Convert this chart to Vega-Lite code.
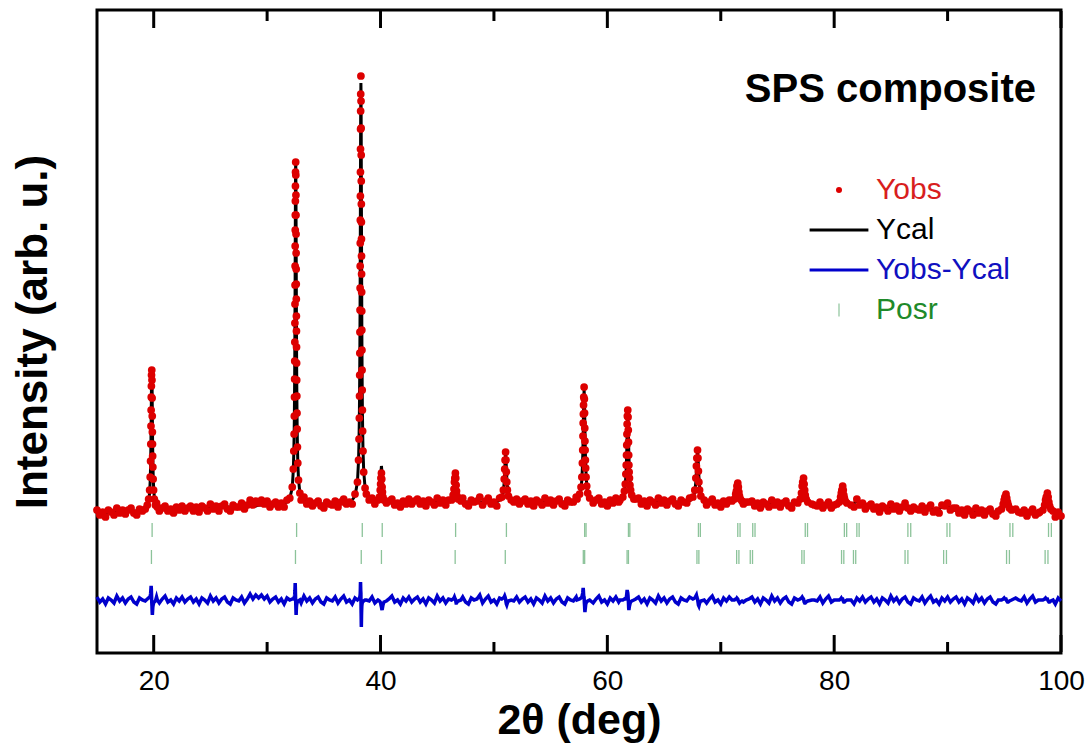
{
"$schema": "https://vega.github.io/schema/vega-lite/v6.json",
"width": 964, "height": 643,
"autosize": {"type": "none"},
"padding": {"left": 97, "top": 10, "right": 30, "bottom": 95},
"background": "#ffffff",
"config": {"view": {"stroke": "#000000", "strokeWidth": 3}, "font": "Liberation Sans", "axis": {"grid": false}},
"datasets": {
"tickpos": [
{"t":20,"k":1},{"t":40,"k":1},{"t":60,"k":1},{"t":80,"k":1},{"t":100,"k":1},
{"t":30,"k":2},{"t":50,"k":2},{"t":70,"k":2},{"t":90,"k":2}
],
"posr": [
{"p":19.86,"ph":1},{"p":32.6,"ph":1},{"p":38.39,"ph":1},{"p":40.15,"ph":1},{"p":46.62,"ph":1},{"p":51.1,"ph":1},{"p":58.0,"ph":1},{"p":58.12,"ph":1},{"p":61.86,"ph":1},{"p":61.98,"ph":1},{"p":68.03,"ph":1},{"p":68.2,"ph":1},{"p":71.5,"ph":1},{"p":71.7,"ph":1},{"p":72.82,"ph":1},{"p":73.02,"ph":1},{"p":77.45,"ph":1},{"p":77.65,"ph":1},{"p":80.9,"ph":1},{"p":81.1,"ph":1},{"p":82.0,"ph":1},{"p":82.2,"ph":1},{"p":86.5,"ph":1},{"p":86.75,"ph":1},{"p":89.95,"ph":1},{"p":90.2,"ph":1},{"p":95.5,"ph":1},{"p":95.75,"ph":1},{"p":98.9,"ph":1},{"p":99.15,"ph":1},
{"p":19.8,"ph":2},{"p":32.5,"ph":2},{"p":38.3,"ph":2},{"p":40.08,"ph":2},{"p":46.58,"ph":2},{"p":51.0,"ph":2},{"p":57.88,"ph":2},{"p":58.0,"ph":2},{"p":61.74,"ph":2},{"p":61.86,"ph":2},{"p":67.9,"ph":2},{"p":68.07,"ph":2},{"p":71.4,"ph":2},{"p":71.6,"ph":2},{"p":72.6,"ph":2},{"p":72.8,"ph":2},{"p":77.15,"ph":2},{"p":77.35,"ph":2},{"p":80.65,"ph":2},{"p":80.85,"ph":2},{"p":81.7,"ph":2},{"p":81.9,"ph":2},{"p":86.25,"ph":2},{"p":86.5,"ph":2},{"p":89.65,"ph":2},{"p":89.9,"ph":2},{"p":95.2,"ph":2},{"p":95.45,"ph":2},{"p":98.6,"ph":2},{"p":98.85,"ph":2}
],
"xrd": [
{"x":15,"o":143,"c":140,"d":56},{"x":15.25,"o":138,"c":140,"d":51},{"x":15.5,"o":141,"c":140,"d":54},{"x":15.75,"o":136,"c":140,"d":49},{"x":16,"o":143,"c":141,"d":55},{"x":16.25,"o":141,"c":141,"d":53},{"x":16.5,"o":138,"c":141,"d":50},{"x":16.75,"o":145,"c":141,"d":57},{"x":17,"o":140,"c":141,"d":52},{"x":17.25,"o":143,"c":141,"d":55},{"x":17.5,"o":139,"c":142,"d":50},{"x":17.75,"o":143,"c":142,"d":54},{"x":18,"o":145,"c":142,"d":56},{"x":18.25,"o":140,"c":142,"d":51},{"x":18.5,"o":138,"c":142,"d":49},{"x":18.75,"o":144,"c":142,"d":55},{"x":19,"o":142,"c":142,"d":53},{"x":19.25,"o":144,"c":145,"d":52},
{"x":19.432,"o":148,"c":147,"d":54},{"x":19.553,"o":154,"c":152,"d":55},{"x":19.64,"o":163,"c":160,"d":56},{"x":19.69,"o":176,"c":172,"d":57},{"x":19.723,"o":192,"c":186,"d":59},{"x":19.744,"o":209,"c":200,"d":62},{"x":19.76,"o":227,"c":215,"d":65},{"x":19.773,"o":243,"c":229,"d":67},{"x":19.784,"o":256,"c":243,"d":66},{"x":19.795,"o":267,"c":257,"d":63},{"x":19.807,"o":278,"c":272,"d":59},{"x":19.83,"o":283,"c":286,"d":50},
{"x":19.846,"o":273,"c":279,"d":47},{"x":19.859,"o":255,"c":265,"d":43},{"x":19.87,"o":237,"c":250,"d":40},{"x":19.881,"o":221,"c":236,"d":38},{"x":19.893,"o":209,"c":222,"d":40},{"x":19.907,"o":197,"c":207,"d":43},{"x":19.925,"o":186,"c":193,"d":46},{"x":19.951,"o":174,"c":179,"d":48},{"x":19.99,"o":163,"c":166,"d":50},{"x":20.053,"o":154,"c":156,"d":51},{"x":20.153,"o":148,"c":149,"d":52},{"x":20.25,"o":150,"c":147,"d":56},{"x":20.32,"o":146,"c":146,"d":53},
{"x":20.5,"o":142,"c":145,"d":50},{"x":20.75,"o":145,"c":144,"d":54},{"x":21,"o":147,"c":143,"d":57},{"x":21.25,"o":142,"c":144,"d":51},{"x":21.5,"o":144,"c":144,"d":53},{"x":21.75,"o":140,"c":144,"d":49},{"x":22,"o":146,"c":144,"d":55},{"x":22.25,"o":143,"c":144,"d":52},{"x":22.5,"o":147,"c":144,"d":56},{"x":22.75,"o":142,"c":144,"d":51},{"x":23,"o":145,"c":144,"d":54},{"x":23.25,"o":147,"c":144,"d":56},{"x":23.5,"o":142,"c":144,"d":51},{"x":23.75,"o":146,"c":145,"d":54},{"x":24,"o":141,"c":145,"d":49},{"x":24.25,"o":147,"c":145,"d":55},{"x":24.5,"o":145,"c":145,"d":53},{"x":24.75,"o":142,"c":145,"d":50},{"x":25,"o":149,"c":145,"d":57},{"x":25.25,"o":144,"c":145,"d":52},{"x":25.5,"o":147,"c":145,"d":55},{"x":25.75,"o":142,"c":145,"d":50},{"x":26,"o":147,"c":146,"d":54},{"x":26.25,"o":149,"c":146,"d":56},{"x":26.5,"o":144,"c":146,"d":51},{"x":26.75,"o":142,"c":146,"d":49},{"x":27,"o":148,"c":146,"d":55},{"x":27.25,"o":146,"c":146,"d":53},{"x":27.5,"o":146,"c":147,"d":52},{"x":27.75,"o":150,"c":147,"d":56},{"x":28,"o":144,"c":147,"d":50},{"x":28.25,"o":148,"c":147,"d":54},{"x":28.5,"o":153,"c":147,"d":59},{"x":28.75,"o":148,"c":147,"d":54},{"x":29,"o":152,"c":147,"d":58},{"x":29.25,"o":150,"c":148,"d":55},{"x":29.5,"o":153,"c":148,"d":58},{"x":29.75,"o":149,"c":148,"d":54},{"x":30,"o":152,"c":148,"d":57},{"x":30.25,"o":146,"c":148,"d":51},{"x":30.5,"o":149,"c":148,"d":54},{"x":30.75,"o":151,"c":148,"d":56},{"x":31,"o":146,"c":148,"d":51},{"x":31.25,"o":150,"c":149,"d":54},{"x":31.5,"o":146,"c":150,"d":49},{"x":31.75,"o":153,"c":151,"d":55},{"x":32,"o":155,"c":155,"d":53},
{"x":32.215,"o":166,"c":165,"d":54},{"x":32.31,"o":184,"c":183,"d":54},{"x":32.353,"o":202,"c":200,"d":55},{"x":32.38,"o":219,"c":217,"d":55},{"x":32.399,"o":237,"c":234,"d":56},{"x":32.413,"o":256,"c":252,"d":57},{"x":32.425,"o":274,"c":269,"d":58},{"x":32.434,"o":292,"c":286,"d":59},{"x":32.443,"o":311,"c":303,"d":61},{"x":32.45,"o":330,"c":321,"d":62},{"x":32.457,"o":349,"c":338,"d":64},{"x":32.463,"o":368,"c":355,"d":66},{"x":32.469,"o":387,"c":372,"d":68},{"x":32.474,"o":407,"c":390,"d":70},{"x":32.48,"o":423,"c":407,"d":69},{"x":32.485,"o":438,"c":424,"d":67},{"x":32.491,"o":452,"c":441,"d":64},{"x":32.497,"o":467,"c":459,"d":61},{"x":32.504,"o":481,"c":476,"d":58},{"x":32.52,"o":491,"c":493,"d":51},
{"x":32.531,"o":478,"c":484,"d":47},{"x":32.54,"o":458,"c":467,"d":44},{"x":32.547,"o":438,"c":450,"d":41},{"x":32.552,"o":419,"c":433,"d":39},{"x":32.558,"o":400,"c":415,"d":38},{"x":32.563,"o":384,"c":398,"d":39},{"x":32.569,"o":369,"c":381,"d":41},{"x":32.574,"o":354,"c":364,"d":43},{"x":32.58,"o":337,"c":346,"d":44},{"x":32.587,"o":322,"c":329,"d":46},{"x":32.594,"o":306,"c":312,"d":47},{"x":32.601,"o":290,"c":295,"d":48},{"x":32.61,"o":273,"c":277,"d":49},{"x":32.621,"o":257,"c":260,"d":50},{"x":32.634,"o":240,"c":243,"d":50},{"x":32.65,"o":224,"c":226,"d":51},{"x":32.672,"o":206,"c":208,"d":51},{"x":32.705,"o":190,"c":191,"d":52},{"x":32.766,"o":173,"c":174,"d":52},{"x":32.888,"o":160,"c":160,"d":53},
{"x":33,"o":153,"c":156,"d":50},{"x":33.25,"o":156,"c":152,"d":57},{"x":33.5,"o":149,"c":150,"d":52},{"x":33.75,"o":152,"c":150,"d":55},{"x":34,"o":147,"c":150,"d":50},{"x":34.25,"o":150,"c":149,"d":54},{"x":34.5,"o":152,"c":149,"d":56},{"x":34.75,"o":147,"c":149,"d":51},{"x":35,"o":145,"c":149,"d":49},{"x":35.25,"o":151,"c":149,"d":55},{"x":35.5,"o":149,"c":149,"d":53},{"x":35.75,"o":148,"c":149,"d":52},{"x":36,"o":152,"c":149,"d":56},{"x":36.25,"o":146,"c":149,"d":50},{"x":36.5,"o":151,"c":150,"d":54},{"x":36.75,"o":154,"c":150,"d":57},{"x":37,"o":149,"c":151,"d":51},{"x":37.25,"o":151,"c":151,"d":53},{"x":37.5,"o":149,"c":153,"d":49},{"x":37.75,"o":159,"c":157,"d":55},
{"x":37.965,"o":171,"c":171,"d":53},{"x":38.06,"o":193,"c":192,"d":54},{"x":38.103,"o":214,"c":213,"d":54},{"x":38.13,"o":235,"c":234,"d":54},{"x":38.149,"o":257,"c":255,"d":55},{"x":38.163,"o":278,"c":276,"d":55},{"x":38.175,"o":300,"c":297,"d":56},{"x":38.184,"o":321,"c":318,"d":56},{"x":38.193,"o":343,"c":339,"d":57},{"x":38.2,"o":365,"c":360,"d":58},{"x":38.207,"o":387,"c":381,"d":59},{"x":38.213,"o":410,"c":402,"d":61},{"x":38.219,"o":433,"c":423,"d":63},{"x":38.224,"o":457,"c":444,"d":66},{"x":38.23,"o":481,"c":465,"d":69},{"x":38.235,"o":504,"c":486,"d":71},{"x":38.241,"o":524,"c":507,"d":70},{"x":38.247,"o":542,"c":528,"d":67},{"x":38.254,"o":559,"c":549,"d":63},{"x":38.27,"o":577,"c":570,"d":60},
{"x":38.281,"o":552,"c":560,"d":45},{"x":38.29,"o":525,"c":539,"d":39},{"x":38.297,"o":498,"c":518,"d":33},{"x":38.302,"o":472,"c":497,"d":28},{"x":38.308,"o":449,"c":476,"d":26},{"x":38.313,"o":431,"c":455,"d":29},{"x":38.319,"o":414,"c":434,"d":33},{"x":38.324,"o":397,"c":413,"d":37},{"x":38.33,"o":379,"c":392,"d":40},{"x":38.337,"o":361,"c":371,"d":43},{"x":38.344,"o":342,"c":350,"d":45},{"x":38.351,"o":323,"c":329,"d":47},{"x":38.36,"o":303,"c":308,"d":48},{"x":38.371,"o":283,"c":287,"d":49},{"x":38.384,"o":263,"c":266,"d":50},{"x":38.4,"o":243,"c":245,"d":51},{"x":38.422,"o":222,"c":224,"d":51},{"x":38.455,"o":202,"c":203,"d":52},{"x":38.516,"o":181,"c":182,"d":52},{"x":38.638,"o":165,"c":165,"d":53},
{"x":38.75,"o":159,"c":159,"d":53},{"x":39,"o":153,"c":154,"d":52},{"x":39.25,"o":155,"c":152,"d":56},{"x":39.5,"o":149,"c":152,"d":50},
{"x":39.775,"o":153,"c":153,"d":53},{"x":39.9,"o":156,"c":157,"d":52},{"x":39.97,"o":163,"c":165,"d":51},{"x":40.007,"o":169,"c":172,"d":50},{"x":40.035,"o":175,"c":180,"d":48},{"x":40.08,"o":180,"c":187,"d":46},{"x":40.11,"o":174,"c":183,"d":44},{"x":40.139,"o":166,"c":176,"d":43},{"x":40.17,"o":161,"c":169,"d":45},{"x":40.217,"o":156,"c":161,"d":48},{"x":40.303,"o":153,"c":155,"d":51},{"x":40.521,"o":150,"c":151,"d":52},
{"x":40.75,"o":152,"c":151,"d":54},{"x":41,"o":154,"c":150,"d":57},{"x":41.25,"o":148,"c":150,"d":51},{"x":41.5,"o":150,"c":150,"d":53},{"x":41.75,"o":146,"c":150,"d":49},{"x":42,"o":152,"c":150,"d":55},{"x":42.25,"o":149,"c":150,"d":52},{"x":42.5,"o":154,"c":151,"d":56},{"x":42.75,"o":149,"c":151,"d":51},{"x":43,"o":152,"c":151,"d":54},{"x":43.25,"o":154,"c":151,"d":56},{"x":43.5,"o":149,"c":151,"d":51},{"x":43.75,"o":152,"c":151,"d":54},{"x":44,"o":147,"c":151,"d":49},{"x":44.25,"o":153,"c":151,"d":55},{"x":44.5,"o":151,"c":151,"d":53},{"x":44.75,"o":148,"c":151,"d":50},{"x":45,"o":155,"c":151,"d":57},{"x":45.25,"o":150,"c":151,"d":52},{"x":45.5,"o":153,"c":151,"d":55},{"x":45.75,"o":148,"c":151,"d":50},{"x":46,"o":153,"c":152,"d":54},
{"x":46.261,"o":153,"c":153,"d":53},{"x":46.4,"o":158,"c":157,"d":54},{"x":46.478,"o":164,"c":162,"d":55},{"x":46.518,"o":171,"c":168,"d":56},{"x":46.55,"o":175,"c":173,"d":55},{"x":46.6,"o":180,"c":179,"d":54},{"x":46.633,"o":175,"c":176,"d":52},{"x":46.665,"o":168,"c":171,"d":50},{"x":46.7,"o":162,"c":165,"d":50},{"x":46.753,"o":157,"c":159,"d":51},{"x":46.848,"o":154,"c":155,"d":52},{"x":47.09,"o":152,"c":152,"d":53},
{"x":47.25,"o":155,"c":152,"d":56},{"x":47.5,"o":149,"c":151,"d":51},{"x":47.75,"o":147,"c":151,"d":49},{"x":48,"o":153,"c":151,"d":55},{"x":48.25,"o":151,"c":151,"d":53},{"x":48.5,"o":152,"c":151,"d":54},{"x":48.75,"o":156,"c":151,"d":58},{"x":49,"o":148,"c":151,"d":50},{"x":49.25,"o":152,"c":151,"d":54},{"x":49.5,"o":155,"c":151,"d":57},{"x":49.75,"o":149,"c":151,"d":51},{"x":50,"o":151,"c":151,"d":53},{"x":50.25,"o":147,"c":151,"d":49},{"x":50.5,"o":155,"c":153,"d":55},
{"x":50.691,"o":156,"c":155,"d":54},{"x":50.83,"o":163,"c":161,"d":55},{"x":50.908,"o":174,"c":171,"d":56},{"x":50.948,"o":184,"c":180,"d":57},{"x":50.98,"o":193,"c":190,"d":56},{"x":51.03,"o":201,"c":200,"d":54},{"x":51.063,"o":193,"c":195,"d":51},{"x":51.095,"o":181,"c":185,"d":49},{"x":51.13,"o":171,"c":176,"d":48},{"x":51.183,"o":163,"c":166,"d":50},{"x":51.278,"o":157,"c":158,"d":52},{"x":51.52,"o":153,"c":153,"d":53},
{"x":51.75,"o":151,"c":152,"d":52},{"x":52,"o":154,"c":151,"d":56},{"x":52.25,"o":149,"c":151,"d":51},{"x":52.5,"o":152,"c":151,"d":54},{"x":52.75,"o":154,"c":151,"d":56},{"x":53,"o":149,"c":151,"d":51},{"x":53.25,"o":152,"c":151,"d":54},{"x":53.5,"o":147,"c":151,"d":49},{"x":53.75,"o":153,"c":151,"d":55},{"x":54,"o":151,"c":151,"d":53},{"x":54.25,"o":148,"c":151,"d":50},{"x":54.5,"o":155,"c":151,"d":57},{"x":54.75,"o":150,"c":151,"d":52},{"x":55,"o":153,"c":151,"d":55},{"x":55.25,"o":148,"c":151,"d":50},{"x":55.5,"o":152,"c":151,"d":54},{"x":55.75,"o":154,"c":151,"d":56},{"x":56,"o":149,"c":151,"d":51},{"x":56.25,"o":147,"c":151,"d":49},{"x":56.5,"o":153,"c":151,"d":55},{"x":56.75,"o":151,"c":151,"d":53},{"x":57,"o":151,"c":152,"d":52},{"x":57.25,"o":156,"c":153,"d":56},
{"x":57.326,"o":154,"c":154,"d":53},{"x":57.554,"o":159,"c":158,"d":54},{"x":57.679,"o":166,"c":164,"d":55},{"x":57.75,"o":176,"c":173,"d":56},{"x":57.797,"o":190,"c":185,"d":58},{"x":57.828,"o":203,"c":196,"d":60},{"x":57.85,"o":217,"c":207,"d":63},{"x":57.868,"o":230,"c":218,"d":65},{"x":57.885,"o":239,"c":229,"d":63},{"x":57.9,"o":248,"c":241,"d":60},{"x":57.917,"o":256,"c":252,"d":57},{"x":57.95,"o":266,"c":263,"d":56},
{"x":57.973,"o":254,"c":257,"d":50},{"x":57.992,"o":240,"c":246,"d":47},{"x":58.008,"o":225,"c":235,"d":43},{"x":58.023,"o":212,"c":224,"d":41},{"x":58.04,"o":203,"c":213,"d":43},{"x":58.061,"o":193,"c":201,"d":45},{"x":58.086,"o":185,"c":190,"d":48},{"x":58.123,"o":176,"c":179,"d":50},{"x":58.179,"o":167,"c":169,"d":51},{"x":58.268,"o":160,"c":161,"d":52},{"x":58.44,"o":155,"c":155,"d":53},
{"x":58.75,"o":150,"c":153,"d":50},{"x":59,"o":153,"c":152,"d":54},{"x":59.25,"o":155,"c":151,"d":57},{"x":59.5,"o":149,"c":151,"d":51},{"x":59.75,"o":151,"c":151,"d":53},{"x":60,"o":147,"c":151,"d":49},{"x":60.25,"o":153,"c":151,"d":55},{"x":60.5,"o":150,"c":151,"d":52},{"x":60.75,"o":155,"c":152,"d":56},{"x":61,"o":151,"c":153,"d":51},
{"x":61.113,"o":153,"c":153,"d":53},{"x":61.365,"o":156,"c":156,"d":53},{"x":61.502,"o":162,"c":161,"d":54},{"x":61.58,"o":169,"c":168,"d":54},{"x":61.632,"o":179,"c":177,"d":55},{"x":61.665,"o":188,"c":185,"d":56},{"x":61.69,"o":198,"c":194,"d":57},{"x":61.71,"o":208,"c":202,"d":59},{"x":61.728,"o":219,"c":211,"d":61},{"x":61.745,"o":229,"c":219,"d":63},{"x":61.763,"o":237,"c":228,"d":62},{"x":61.8,"o":243,"c":236,"d":60},
{"x":61.825,"o":236,"c":232,"d":57},{"x":61.846,"o":223,"c":223,"d":53},{"x":61.864,"o":211,"c":215,"d":49},{"x":61.881,"o":198,"c":206,"d":45},{"x":61.899,"o":188,"c":198,"d":43},{"x":61.922,"o":181,"c":189,"d":45},{"x":61.95,"o":175,"c":181,"d":47},{"x":61.991,"o":168,"c":172,"d":49},{"x":62.052,"o":163,"c":165,"d":51},{"x":62.15,"o":158,"c":159,"d":52},{"x":62.339,"o":154,"c":154,"d":53},
{"x":62.5,"o":154,"c":153,"d":54},{"x":62.75,"o":155,"c":152,"d":56},{"x":63,"o":149,"c":151,"d":51},{"x":63.25,"o":152,"c":151,"d":54},{"x":63.5,"o":147,"c":151,"d":49},{"x":63.75,"o":153,"c":151,"d":55},{"x":64,"o":151,"c":151,"d":53},{"x":64.25,"o":148,"c":151,"d":50},{"x":64.5,"o":155,"c":151,"d":57},{"x":64.75,"o":150,"c":151,"d":52},{"x":65,"o":153,"c":151,"d":55},{"x":65.25,"o":148,"c":151,"d":50},{"x":65.5,"o":152,"c":151,"d":54},{"x":65.75,"o":154,"c":151,"d":56},{"x":66,"o":149,"c":151,"d":51},{"x":66.25,"o":147,"c":151,"d":49},{"x":66.5,"o":153,"c":151,"d":55},{"x":66.75,"o":151,"c":151,"d":53},{"x":67,"o":150,"c":151,"d":52},{"x":67.25,"o":155,"c":152,"d":56},
{"x":67.543,"o":156,"c":155,"d":54},{"x":67.71,"o":163,"c":161,"d":55},{"x":67.803,"o":175,"c":171,"d":57},{"x":67.852,"o":187,"c":182,"d":58},{"x":67.89,"o":195,"c":192,"d":56},{"x":67.95,"o":203,"c":202,"d":54},{"x":67.99,"o":195,"c":197,"d":51},{"x":68.029,"o":182,"c":187,"d":48},{"x":68.07,"o":171,"c":177,"d":47},{"x":68.133,"o":163,"c":166,"d":50},{"x":68.247,"o":157,"c":158,"d":52},{"x":68.538,"o":153,"c":153,"d":53},
{"x":68.75,"o":148,"c":151,"d":50},{"x":69,"o":151,"c":150,"d":54},{"x":69.25,"o":154,"c":150,"d":57},{"x":69.5,"o":148,"c":150,"d":51},{"x":69.75,"o":150,"c":150,"d":53},{"x":70,"o":146,"c":150,"d":49},{"x":70.25,"o":152,"c":150,"d":55},{"x":70.5,"o":149,"c":150,"d":52},{"x":70.75,"o":153,"c":150,"d":56},
{"x":70.991,"o":152,"c":152,"d":53},{"x":71.2,"o":154,"c":154,"d":53},{"x":71.316,"o":159,"c":158,"d":54},{"x":71.378,"o":162,"c":161,"d":54},{"x":71.425,"o":167,"c":165,"d":55},{"x":71.5,"o":170,"c":169,"d":54},{"x":71.55,"o":166,"c":167,"d":52},{"x":71.598,"o":161,"c":163,"d":51},{"x":71.65,"o":157,"c":160,"d":50},{"x":71.729,"o":154,"c":156,"d":51},{"x":71.872,"o":152,"c":153,"d":52},{"x":72,"o":149,"c":151,"d":51},{"x":72.235,"o":151,"c":151,"d":53},
{"x":72.5,"o":151,"c":150,"d":54},{"x":72.75,"o":152,"c":149,"d":56},{"x":73,"o":147,"c":149,"d":51},{"x":73.25,"o":150,"c":149,"d":54},{"x":73.5,"o":145,"c":149,"d":49},{"x":73.75,"o":151,"c":149,"d":55},{"x":74,"o":149,"c":149,"d":53},{"x":74.25,"o":146,"c":149,"d":50},{"x":74.5,"o":153,"c":149,"d":57},{"x":74.75,"o":148,"c":149,"d":52},{"x":75,"o":151,"c":149,"d":55},{"x":75.25,"o":146,"c":149,"d":50},{"x":75.5,"o":150,"c":149,"d":54},{"x":75.75,"o":152,"c":149,"d":56},{"x":76,"o":147,"c":149,"d":51},{"x":76.25,"o":145,"c":149,"d":49},{"x":76.5,"o":151,"c":149,"d":55},
{"x":76.791,"o":150,"c":150,"d":53},{"x":77,"o":154,"c":153,"d":54},{"x":77.116,"o":160,"c":158,"d":55},{"x":77.178,"o":167,"c":164,"d":56},{"x":77.225,"o":171,"c":169,"d":55},{"x":77.3,"o":175,"c":174,"d":54},{"x":77.35,"o":169,"c":171,"d":51},{"x":77.398,"o":163,"c":166,"d":50},{"x":77.45,"o":158,"c":161,"d":50},{"x":77.529,"o":154,"c":156,"d":51},{"x":77.672,"o":151,"c":152,"d":52},{"x":78.035,"o":149,"c":149,"d":53},
{"x":78.25,"o":148,"c":148,"d":53},{"x":78.5,"o":147,"c":148,"d":52},{"x":78.75,"o":151,"c":148,"d":56},{"x":79,"o":145,"c":148,"d":50},{"x":79.25,"o":148,"c":147,"d":54},{"x":79.5,"o":151,"c":147,"d":57},{"x":79.75,"o":145,"c":147,"d":51},{"x":80,"o":148,"c":148,"d":53},
{"x":80.241,"o":149,"c":149,"d":53},{"x":80.45,"o":151,"c":151,"d":53},{"x":80.566,"o":156,"c":155,"d":54},{"x":80.628,"o":160,"c":158,"d":55},{"x":80.675,"o":163,"c":162,"d":54},{"x":80.75,"o":167,"c":166,"d":54},{"x":80.8,"o":163,"c":164,"d":52},{"x":80.848,"o":158,"c":160,"d":51},{"x":80.9,"o":155,"c":157,"d":51},{"x":80.979,"o":152,"c":153,"d":52},{"x":81.122,"o":150,"c":150,"d":53},{"x":81.485,"o":148,"c":148,"d":53},
{"x":81.75,"o":146,"c":150,"d":49},{"x":82,"o":154,"c":152,"d":55},{"x":82.25,"o":148,"c":149,"d":52},{"x":82.5,"o":150,"c":147,"d":56},{"x":82.75,"o":144,"c":146,"d":51},{"x":83,"o":147,"c":146,"d":54},{"x":83.25,"o":149,"c":146,"d":56},{"x":83.5,"o":144,"c":146,"d":51},{"x":83.75,"o":146,"c":145,"d":54},{"x":84,"o":141,"c":145,"d":49},{"x":84.25,"o":147,"c":145,"d":55},{"x":84.5,"o":145,"c":145,"d":53},{"x":84.75,"o":142,"c":145,"d":50},{"x":85,"o":149,"c":145,"d":57},{"x":85.25,"o":144,"c":145,"d":52},{"x":85.5,"o":147,"c":145,"d":55},{"x":85.75,"o":142,"c":145,"d":50},{"x":86,"o":146,"c":145,"d":54},{"x":86.25,"o":150,"c":147,"d":56},{"x":86.5,"o":145,"c":147,"d":51},{"x":86.75,"o":142,"c":146,"d":49},{"x":87,"o":146,"c":144,"d":55},{"x":87.25,"o":144,"c":144,"d":53},{"x":87.5,"o":143,"c":144,"d":52},{"x":87.75,"o":147,"c":144,"d":56},{"x":88,"o":141,"c":144,"d":50},{"x":88.25,"o":145,"c":144,"d":54},{"x":88.5,"o":148,"c":144,"d":57},{"x":88.75,"o":141,"c":143,"d":51},{"x":89,"o":143,"c":143,"d":53},{"x":89.25,"o":140,"c":144,"d":49},{"x":89.5,"o":148,"c":146,"d":55},{"x":89.75,"o":147,"c":148,"d":52},{"x":90,"o":150,"c":147,"d":56},{"x":90.25,"o":143,"c":145,"d":51},{"x":90.5,"o":145,"c":144,"d":54},{"x":90.75,"o":145,"c":142,"d":56},{"x":91,"o":140,"c":142,"d":51},{"x":91.25,"o":143,"c":142,"d":54},{"x":91.5,"o":138,"c":142,"d":49},{"x":91.75,"o":144,"c":142,"d":55},{"x":92,"o":142,"c":142,"d":53},{"x":92.25,"o":138,"c":141,"d":50},{"x":92.5,"o":145,"c":141,"d":57},{"x":92.75,"o":140,"c":141,"d":52},{"x":93,"o":143,"c":141,"d":55},{"x":93.25,"o":138,"c":141,"d":50},{"x":93.5,"o":142,"c":141,"d":54},{"x":93.75,"o":144,"c":141,"d":56},{"x":94,"o":139,"c":141,"d":51},{"x":94.25,"o":137,"c":141,"d":49},
{"x":94.472,"o":142,"c":142,"d":53},{"x":94.75,"o":144,"c":144,"d":53},{"x":94.905,"o":149,"c":148,"d":54},{"x":94.987,"o":153,"c":151,"d":55},{"x":95.05,"o":156,"c":155,"d":54},{"x":95.15,"o":159,"c":158,"d":54},{"x":95.217,"o":155,"c":156,"d":52},{"x":95.281,"o":151,"c":153,"d":51},{"x":95.35,"o":148,"c":150,"d":51},{"x":95.456,"o":145,"c":146,"d":52},{"x":95.646,"o":143,"c":143,"d":53},
{"x":96,"o":144,"c":142,"d":55},{"x":96.25,"o":141,"c":141,"d":53},{"x":96.5,"o":140,"c":141,"d":52},{"x":96.75,"o":143,"c":140,"d":56},{"x":97,"o":137,"c":140,"d":50},{"x":97.25,"o":141,"c":140,"d":54},{"x":97.5,"o":144,"c":140,"d":57},{"x":97.75,"o":138,"c":140,"d":51},{"x":98,"o":140,"c":140,"d":53},
{"x":98.122,"o":141,"c":141,"d":53},{"x":98.4,"o":143,"c":143,"d":53},{"x":98.555,"o":148,"c":147,"d":54},{"x":98.637,"o":153,"c":151,"d":55},{"x":98.7,"o":156,"c":155,"d":54},{"x":98.8,"o":160,"c":159,"d":54},{"x":98.867,"o":156,"c":157,"d":52},{"x":98.931,"o":151,"c":153,"d":51},{"x":99,"o":147,"c":149,"d":51},{"x":99.106,"o":144,"c":145,"d":52},{"x":99.296,"o":142,"c":142,"d":53},
{"x":99.5,"o":136,"c":140,"d":49},{"x":99.75,"o":141,"c":139,"d":55},{"x":100,"o":137,"c":138,"d":52}
]
},
"layer": [
{
"data": {"name": "posr"},
"transform": [{"filter": "datum.ph == 1"}],
"mark": {"type": "rule", "strokeWidth": 1.3},
"encoding": {
"x": {"field": "p", "type": "quantitative", "scale": {"domain": [15, 100], "nice": false, "zero": false}, "axis": null},
"y": {"datum": 116, "type": "quantitative", "scale": {"domain": [0, 643], "nice": false, "zero": false}, "axis": null},
"y2": {"datum": 130},
"color": {"datum": "Posr", "type": "nominal",
"scale": {"domain": ["Yobs", "Ycal", "Yobs-Ycal", "Posr"], "range": ["#dd0000", "#000000", "#0000cc", "#8cc39a"]},
"legend": {
"orient": "none", "legendX": 727, "legendY": 165, "title": null, "padding": 0,
"labelFont": "Liberation Sans", "labelFontSize": 30, "labelOffset": 22, "rowPadding": 10,
"symbolSize": 36,
"symbolType": {"expr": "datum.value === 'Yobs' ? 'circle' : (datum.value === 'Posr' ? 'M0,-2.2L0,2.2' : 'M-9.8,0L9.8,0')"},
"symbolStrokeWidth": {"expr": "datum.value === 'Yobs' ? 0 : (datum.value === 'Posr' ? 1.2 : 3)"},
"symbolStrokeColor": {"expr": "datum.value === 'Posr' ? '#8a8a8a' : (datum.value === 'Ycal' ? '#000000' : (datum.value === 'Yobs' ? '#dd0000' : '#0000cc'))"},
"symbolFillColor": {"expr": "datum.value === 'Yobs' ? '#dd0000' : 'transparent'"},
"labelColor": {"expr": "datum.value === 'Yobs' ? '#d81e1e' : (datum.value === 'Posr' ? '#1f8a2a' : (datum.value === 'Ycal' ? '#000000' : '#1010c0'))"}
}}
}
},
{
"data": {"name": "posr"},
"transform": [{"filter": "datum.ph == 2"}],
"mark": {"type": "rule", "strokeWidth": 1.3},
"encoding": {
"x": {"field": "p", "type": "quantitative", "scale": {"domain": [15, 100], "nice": false, "zero": false}, "axis": null},
"y": {"datum": 89, "type": "quantitative", "scale": {"domain": [0, 643], "nice": false, "zero": false}, "axis": null},
"y2": {"datum": 103},
"color": {"datum": "Posr", "type": "nominal", "scale": {"domain": ["Yobs", "Ycal", "Yobs-Ycal", "Posr"], "range": ["#dd0000", "#000000", "#0000cc", "#8cc39a"]}}
}
},
{
"data": {"name": "tickpos"},
"transform": [{"filter": "datum.k == 1"}],
"mark": {"type": "rule", "strokeWidth": 3, "opacity": 1},
"encoding": {
"x": {"field": "t", "type": "quantitative", "scale": {"domain": [15, 100], "nice": false, "zero": false}, "axis": null},
"y": {"datum": 1, "type": "quantitative", "scale": {"domain": [0, 643], "nice": false, "zero": false}, "axis": null},
"y2": {"datum": 18},
"color": {"value": "#000000"}
}
},
{
"data": {"name": "tickpos"},
"transform": [{"filter": "datum.k == 1"}],
"mark": {"type": "rule", "strokeWidth": 3, "opacity": 1},
"encoding": {
"x": {"field": "t", "type": "quantitative", "scale": {"domain": [15, 100], "nice": false, "zero": false}, "axis": null},
"y": {"datum": 625, "type": "quantitative", "scale": {"domain": [0, 643], "nice": false, "zero": false}, "axis": null},
"y2": {"datum": 642},
"color": {"value": "#000000"}
}
},
{
"data": {"name": "tickpos"},
"transform": [{"filter": "datum.k == 2"}],
"mark": {"type": "rule", "strokeWidth": 3, "opacity": 1},
"encoding": {
"x": {"field": "t", "type": "quantitative", "scale": {"domain": [15, 100], "nice": false, "zero": false}, "axis": null},
"y": {"datum": 1, "type": "quantitative", "scale": {"domain": [0, 643], "nice": false, "zero": false}, "axis": null},
"y2": {"datum": 11},
"color": {"value": "#000000"}
}
},
{
"data": {"name": "tickpos"},
"transform": [{"filter": "datum.k == 2"}],
"mark": {"type": "rule", "strokeWidth": 3, "opacity": 1},
"encoding": {
"x": {"field": "t", "type": "quantitative", "scale": {"domain": [15, 100], "nice": false, "zero": false}, "axis": null},
"y": {"datum": 632, "type": "quantitative", "scale": {"domain": [0, 643], "nice": false, "zero": false}, "axis": null},
"y2": {"datum": 642},
"color": {"value": "#000000"}
}
},
{
"data": {"name": "xrd"},
"mark": {"type": "line", "strokeWidth": 3.5},
"encoding": {
"x": {"field": "x", "type": "quantitative", "scale": {"domain": [15, 100], "nice": false, "zero": false},
"axis": {"orient": "bottom", "values": [20, 40, 60, 80, 100], "ticks": false, "domain": false, "grid": false,
"labelFont": "Liberation Sans", "labelFontSize": 28, "labelColor": "#000000", "labelPadding": 14, "labelFlush": false, "labelOverlap": false,
"title": "2θ (deg)", "titleFont": "Liberation Sans", "titleFontSize": 43, "titleFontWeight": "bold", "titleColor": "#000000", "titlePadding": 4}},
"y": {"field": "d", "type": "quantitative", "scale": {"domain": [0, 643], "nice": false, "zero": false},
"axis": {"orient": "left", "labels": false, "ticks": false, "domain": false, "grid": false,
"title": "Intensity (arb. u.)", "titleFont": "Liberation Sans", "titleFontSize": 44, "titleFontWeight": "bold", "titleColor": "#000000", "titlePadding": 42}},
"color": {"datum": "Yobs-Ycal", "type": "nominal", "scale": {"domain": ["Yobs", "Ycal", "Yobs-Ycal", "Posr"], "range": ["#dd0000", "#000000", "#0000cc", "#8cc39a"]}}
}
},
{
"data": {"name": "xrd"},
"mark": {"type": "line", "strokeWidth": 3},
"encoding": {
"x": {"field": "x", "type": "quantitative", "scale": {"domain": [15, 100], "nice": false, "zero": false}, "axis": null},
"y": {"field": "c", "type": "quantitative", "scale": {"domain": [0, 643], "nice": false, "zero": false}, "axis": null},
"color": {"datum": "Ycal", "type": "nominal", "scale": {"domain": ["Yobs", "Ycal", "Yobs-Ycal", "Posr"], "range": ["#dd0000", "#000000", "#0000cc", "#8cc39a"]}}
}
},
{
"data": {"name": "xrd"},
"mark": {"type": "point", "filled": true, "size": 60, "opacity": 1, "strokeWidth": 0},
"encoding": {
"x": {"field": "x", "type": "quantitative", "scale": {"domain": [15, 100], "nice": false, "zero": false}, "axis": null},
"y": {"field": "o", "type": "quantitative", "scale": {"domain": [0, 643], "nice": false, "zero": false}, "axis": null},
"color": {"datum": "Yobs", "type": "nominal", "scale": {"domain": ["Yobs", "Ycal", "Yobs-Ycal", "Posr"], "range": ["#dd0000", "#000000", "#0000cc", "#8cc39a"]}}
}
},
{
"data": {"values": [{}]},
"mark": {"type": "text", "text": "SPS composite", "font": "Liberation Sans", "fontSize": 40, "fontWeight": "bold", "align": "right", "baseline": "alphabetic", "color": "#000000"},
"encoding": {
"x": {"datum": 97.8, "type": "quantitative", "scale": {"domain": [15, 100], "nice": false, "zero": false}, "axis": null},
"y": {"datum": 551, "type": "quantitative", "scale": {"domain": [0, 643], "nice": false, "zero": false}, "axis": null}
}
}
],
"resolve": {"axis": {"x": "independent", "y": "independent"}}
}
